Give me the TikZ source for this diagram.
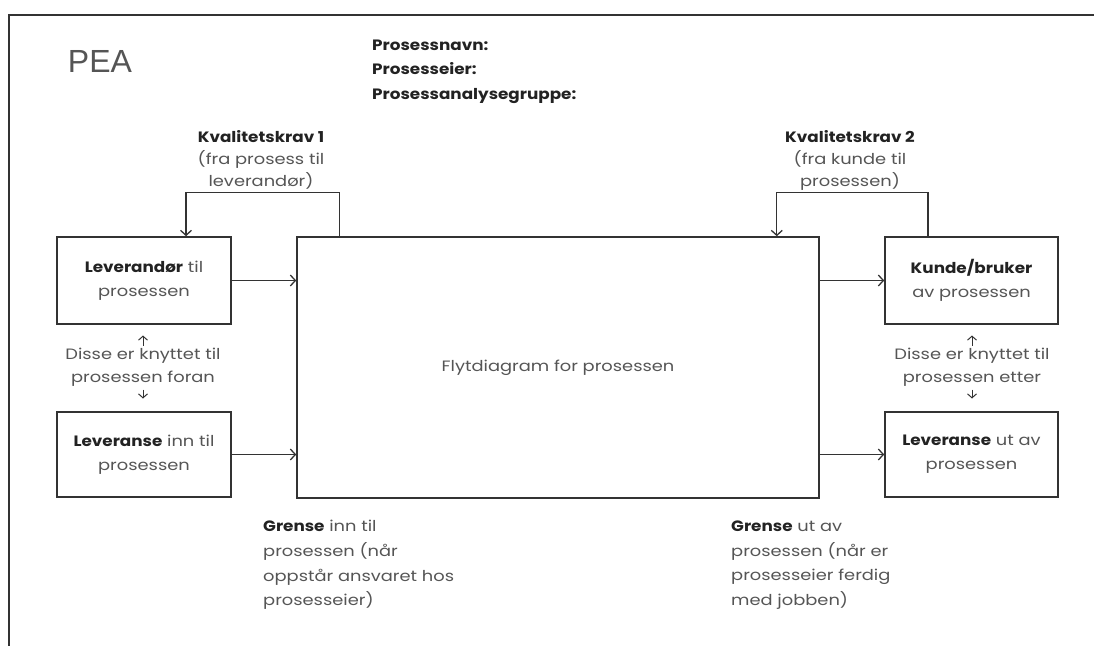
\documentclass[tikz,border=0pt]{standalone}
\usepackage{fontspec}
\setmainfont{Poppins}[FakeStretch=1.19, BoldFeatures={FakeStretch=1.12}]
\newfontfamily\titlefont{Liberation Sans}
\usetikzlibrary{arrows.meta}
\definecolor{ink}{HTML}{222222}
\definecolor{soft}{HTML}{555555}
\definecolor{edge}{HTML}{333333}
\newcommand{\bx}[1]{\textbf{\color{ink}#1}}
\tikzset{
  txt/.style={font=\fontsize{15}{24}\selectfont, text=soft, inner sep=0pt},
  stepbox/.style={draw=edge, line width=1.6pt, rectangle, inner sep=0pt,
    align=center, txt},
  arr/.style={draw=edge, line width=1.3pt, -{Straight Barb[length=5pt,width=11pt,line width=1.3pt]}},
  sarr/.style={draw=edge, line width=1pt, -{Straight Barb[length=4pt,width=9pt,line width=1pt]}},
}
\begin{document}
\begin{tikzpicture}[x=1pt,y=-1pt]
\useasboundingbox (0,0) rectangle (1094,646);
% page frame (top and left edges)
\draw[draw=edge, line width=1.5pt] (1094,15) -- (9,15) -- (9,646);

% heading
\node[font=\titlefont\fontsize{32}{36}\selectfont, text=soft, inner sep=0pt] (title) at (100,61) {PEA};
\node[txt, anchor=west, align=left, font=\fontsize{15}{24.5}\selectfont\bfseries, text=ink] (meta) at (372,71.5)
  {Prosessnavn:\\Prosesseier:\\Prosessanalysegruppe:};

% boxes
\node[stepbox, minimum width=174pt, minimum height=87pt] (lev) at (144,280.5)
  {\bx{Leverandør} til\\prosessen};
\node[stepbox, minimum width=174pt, minimum height=85pt] (levinn) at (144,454.5)
  {\bx{Leveranse} inn til\\prosessen};
\node[stepbox, minimum width=522pt, minimum height=261pt] (main) at (558,367.5)
  {Flytdiagram for prosessen};
\node[stepbox, minimum width=173pt, minimum height=87pt] (kunde) at (971.5,280.5)
  {\bx{Kunde/bruker}\\av prosessen};
\node[stepbox, minimum width=173pt, minimum height=85pt] (levut) at (971.5,454.5)
  {\bx{Leveranse} ut av\\prosessen};

% flows into and out of the process
\draw[arr] (lev) -- (main.west |- lev);
\draw[arr] (levinn) -- (main.west |- levinn);
\draw[arr] (main.east |- kunde) -- (kunde);
\draw[arr] (main.east |- levut) -- (levut);

% quality requirement loops
\draw[arr] ([xshift=43pt]main.north west) -- ++(0,-44) -| ([xshift=42pt]lev.north);
\draw[arr] ([xshift=-43.5pt]kunde.north) -- ++(0,-44) -| ([xshift=-43pt]main.north east);
\node[txt, align=center, font=\fontsize{15}{22}\selectfont] (kk1) at (261,160)
  {\bx{Kvalitetskrav 1}\\(fra prosess til\\leverandør)};
\node[txt, align=center, font=\fontsize{15}{22}\selectfont] (kk2) at (850,160)
  {\bx{Kvalitetskrav 2}\\(fra kunde til\\prosessen)};

% links to neighbouring processes
\node[txt, align=center, font=\fontsize{15}{23}\selectfont] (foran) at (143,367.5)
  {Disse er knyttet til\\prosessen foran};
\node[txt, align=center, font=\fontsize{15}{23}\selectfont] (etter) at (972,367.5)
  {Disse er knyttet til\\prosessen etter};
\draw[sarr] ([yshift=22pt]foran.center) -- ++(0,-10);
\draw[sarr] ([yshift=-22pt]foran.center) -- ++(0,9);
\draw[sarr] ([yshift=22pt]etter.center) -- ++(0,-10);
\draw[sarr] ([yshift=-22pt]etter.center) -- ++(0,9);

% boundaries
\node[txt, anchor=west, align=left, font=\fontsize{15}{24.7}\selectfont] (gin) at (263,565)
  {\bx{Grense} inn til\\prosessen (når\\oppstår ansvaret hos\\prosesseier)};
\node[txt, anchor=west, align=left, font=\fontsize{15}{24.7}\selectfont] (gut) at (731,565)
  {\bx{Grense} ut av\\prosessen (når er\\prosesseier ferdig\\med jobben)};
\end{tikzpicture}
\end{document}
